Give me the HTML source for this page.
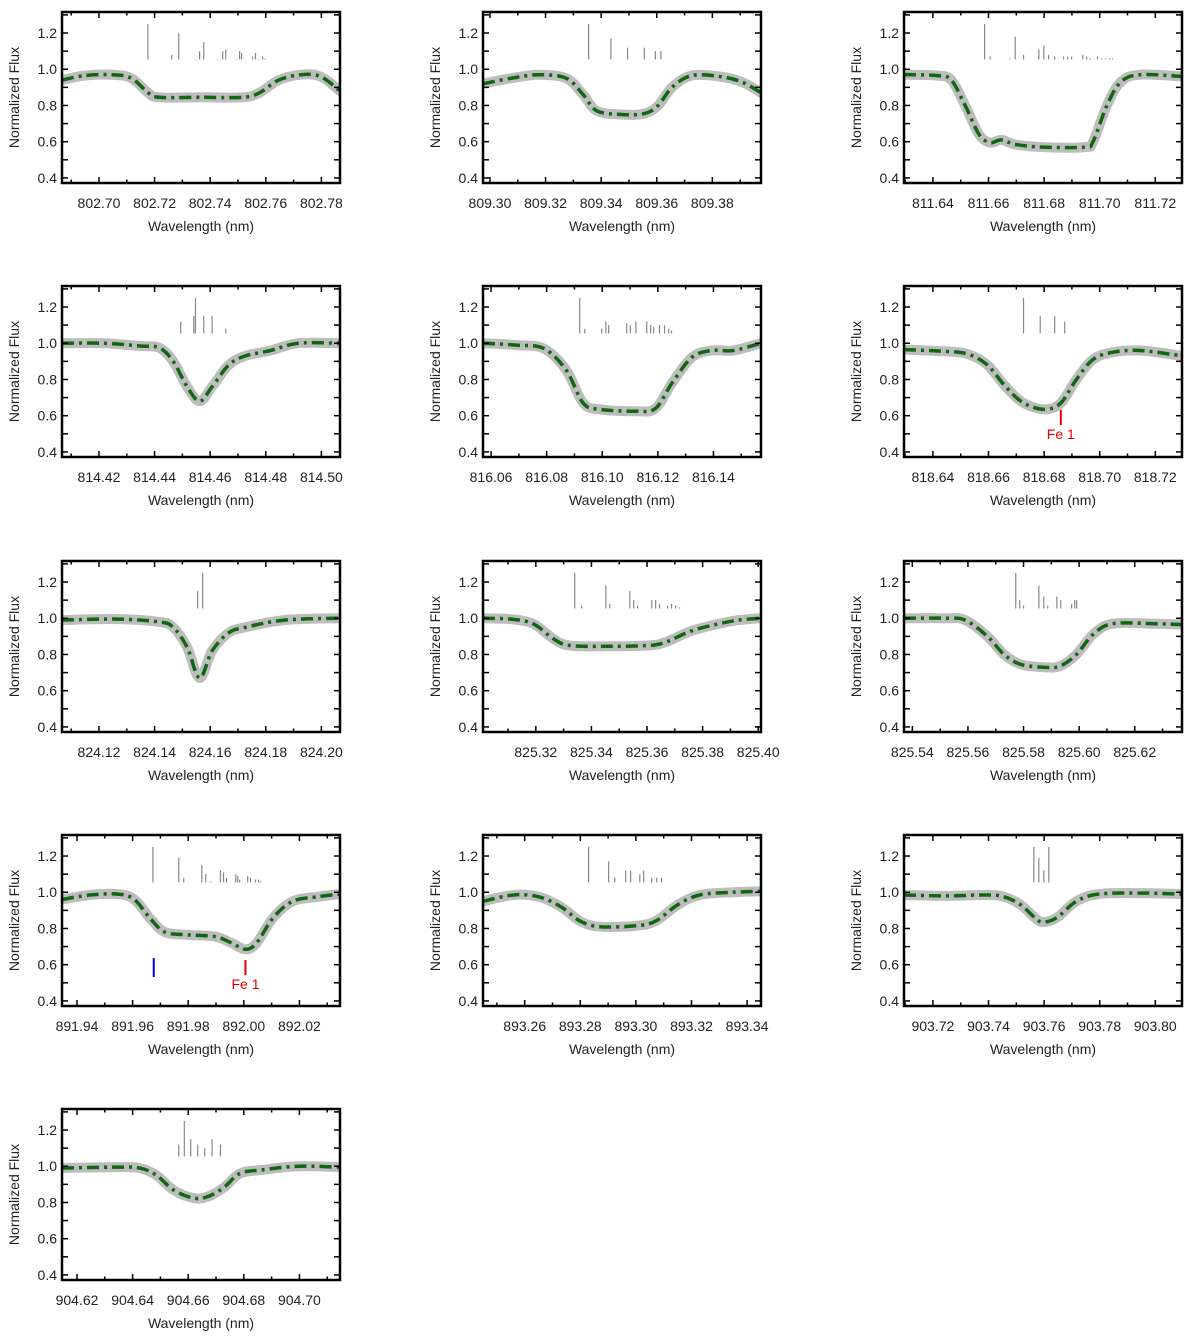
<!DOCTYPE html>
<html><head><meta charset="utf-8"><style>
body{margin:0;background:#fff}
svg text{font-family:"Liberation Sans",Arial,sans-serif;fill:#222}
</style></head><body>
<svg id="fig" width="1200" height="1339" viewBox="0 0 1200 1339" xmlns="http://www.w3.org/2000/svg"></svg>
<script>
// panel wavelength starts (nm), each panel spans 0.1 nm
const panelStarts = [802.6867, 809.2975, 811.6296, 814.4067, 816.0571, 818.6296, 824.1067, 825.301, 825.537, 891.9346, 893.245, 903.7096, 904.6146];
// flux curve sample offsets (nm from panel start) and normalized flux
const fluxDx = [
 [0,.008,.018,.025,.031,.035,.05,.065,.071,.078,.086,.093,.1],
 [0,.01,.02,.03,.036,.041,.05,.058,.063,.068,.075,.085,.093,.1],
 [0,.012,.017,.022,.027,.031,.035,.04,.05,.065,.068,.073,.078,.085,.1],
 [0,.015,.028,.035,.04,.045,.0495,.054,.06,.066,.075,.085,.1],
 [0,.012,.022,.03,.036,.042,.055,.062,.068,.075,.082,.09,.1],
 [0,.015,.023,.03,.036,.042,.048,.053,.057,.062,.068,.075,.085,.1],
 [0,.02,.035,.04,.045,.0495,.054,.06,.066,.08,.1],
 [0,.01,.018,.025,.031,.045,.06,.066,.075,.085,.092,.1],
 [0,.015,.022,.03,.036,.042,.05,.056,.062,.068,.075,.09,.1],
 [0,.01,.02,.026,.032,.037,.045,.055,.061,.066,.07,.076,.083,.092,.1],
 [0,.011,.02,.028,.035,.042,.055,.062,.07,.078,.09,.1],
 [0,.015,.03,.036,.042,.047,.05,.055,.062,.07,.085,.1],
 [0,.02,.028,.034,.04,.047,.052,.058,.064,.072,.085,.1]
];
const fluxVals = [
 [.94,.965,.97,.95,.87,.845,.845,.845,.87,.94,.97,.96,.88],
 [.92,.95,.97,.95,.86,.77,.75,.755,.8,.9,.965,.96,.93,.87],
 [.97,.965,.94,.8,.64,.595,.61,.585,.57,.57,.6,.8,.93,.97,.96],
 [1.0,1.0,.985,.975,.9,.76,.68,.76,.88,.93,.96,1.0,1.0],
 [1.0,.99,.97,.85,.67,.635,.625,.64,.78,.92,.96,.96,1.0],
 [.965,.955,.94,.88,.77,.68,.64,.64,.68,.8,.91,.95,.96,.93],
 [.99,.995,.98,.95,.84,.67,.82,.92,.95,.99,1.0],
 [1.0,.995,.97,.89,.85,.845,.85,.87,.93,.97,.99,1.0],
 [1.0,1.0,.99,.9,.8,.745,.73,.735,.8,.91,.97,.97,.965],
 [.96,.985,.99,.96,.85,.78,.765,.755,.72,.685,.72,.86,.95,.975,.99],
 [.95,.985,.975,.92,.84,.81,.815,.84,.93,.985,1.0,1.005],
 [.985,.98,.985,.975,.93,.86,.835,.86,.95,.99,.995,.99],
 [.99,.995,.99,.95,.87,.825,.83,.88,.96,.98,1.0,.995]
];
// line list sticks: offsets (nm) and top heights
const lineDx = [
 [.0309,.0395,.042,.0481,.0495,.051,.056,.0578,.0589,.0628,.0639,.0646,.0686,.0696,.0707,.0722,.0732],
 [.038,.046,.052,.058,.062,.064],
 [.029,.031,.038,.04,.043,.0485,.0503,.052,.0542,.0574,.0589,.0603,.0643,.0657,.0668,.0696,.0711,.0725,.074,.075],
 [.0427,.0474,.048,.051,.054,.0589],
 [.0348,.0366,.0427,.0442,.0452,.0517,.053,.055,.0589,.0603,.0614,.0635,.0653,.0668,.0678],
 [.043,.049,.0542,.0578],
 [.0488,.0506],
 [.033,.0355,.0442,.0456,.0528,.0542,.0556,.0607,.0621,.0635,.0664,.0678,.0693,.0707],
 [.0402,.0416,.043,.0485,.0503,.0517,.055,.0564,.0603,.0614,.0621],
 [.0327,.042,.0438,.0503,.0517,.0535,.057,.0581,.0592,.0625,.0632,.0639,.0668,.0678,.0696,.0707,.0714],
 [.038,.0452,.0474,.0513,.0531,.0564,.0578,.0607,.0625,.0642],
 [.0467,.0485,.0503,.0521],
 [.042,.044,.0463,.0488,.0513,.054,.057]
];
const lineTops = [
 [1.25,1.08,1.20,1.05,1.10,1.15,1.05,1.10,1.11,1.05,1.10,1.09,1.07,1.09,1.05,1.07,1.06],
 [1.25,1.17,1.12,1.12,1.10,1.10],
 [1.25,1.07,1.06,1.18,1.08,1.11,1.13,1.08,1.07,1.07,1.07,1.07,1.08,1.07,1.06,1.07,1.06,1.06,1.06,1.06],
 [1.12,1.15,1.25,1.15,1.15,1.08],
 [1.25,1.08,1.08,1.12,1.10,1.11,1.10,1.12,1.12,1.10,1.09,1.10,1.10,1.08,1.07],
 [1.25,1.15,1.15,1.12],
 [1.15,1.25],
 [1.25,1.07,1.18,1.08,1.15,1.10,1.07,1.10,1.10,1.08,1.07,1.08,1.07,1.06],
 [1.25,1.10,1.07,1.18,1.12,1.07,1.12,1.10,1.08,1.10,1.10],
 [1.25,1.19,1.08,1.15,1.10,1.06,1.12,1.11,1.08,1.10,1.09,1.07,1.09,1.08,1.07,1.07,1.06],
 [1.25,1.17,1.08,1.12,1.12,1.10,1.12,1.08,1.08,1.08],
 [1.25,1.19,1.12,1.25],
 [1.12,1.25,1.15,1.12,1.10,1.15,1.12]
];
const lineBase = 1.054;
// annotation markers: [panel, offset nm, fluxTop, fluxBottom, color, label]
const markers = [[5,.0564,.632,.549,"#e00000","Fe 1"],[9,.033,.637,.532,"#0000e0",""],[9,.066,.626,.543,"#e00000","Fe 1"]];
const yTicks = [0.4,0.6,0.8,1.0,1.2];

const NS="http://www.w3.org/2000/svg";
const svg=document.getElementById('fig');
const colX=[62,483,904], rowY=[12,286,561,835,1109], W=278, H=171;
const YMIN=0.372, YMAX=1.316, SPAN=0.1;
function mk(tag,attrs,parent){const e=document.createElementNS(NS,tag);for(const k in attrs)e.setAttribute(k,attrs[k]);(parent||svg).appendChild(e);return e;}
function smooth(pts){let d=`M${pts[0][0]},${pts[0][1]}`;for(let i=0;i<pts.length-1;i++){const p0=pts[i-1]||pts[i],p1=pts[i],p2=pts[i+1],p3=pts[i+2]||p2;
 const c1=[p1[0]+(p2[0]-p0[0])/6,p1[1]+(p2[1]-p0[1])/6],c2=[p2[0]-(p3[0]-p1[0])/6,p2[1]-(p3[1]-p1[1])/6];
 d+=`C${c1[0].toFixed(1)},${c1[1].toFixed(1)} ${c2[0].toFixed(1)},${c2[1].toFixed(1)} ${p2[0].toFixed(1)},${p2[1].toFixed(1)}`;}return d;}

panelStarts.forEach((start,p)=>{
 const ox=colX[p%3], oy=rowY[Math.floor(p/3)];
 const xs=dx=>ox+dx/SPAN*W;
 const ys=v=>oy+H-(v-YMIN)/(YMAX-YMIN)*H;
 const g=mk('g',{});
 
 
 const cp=mk('clipPath',{id:'c'+p},g);mk('rect',{x:ox,y:oy,width:W,height:H},cp);
 lineDx[p].forEach((d,i)=>{const l=mk('line',{x1:xs(d),x2:xs(d),y1:ys(lineBase),y2:ys(lineTops[p][i]),stroke:'#888','stroke-width':1.2},g);
  
  });
 const pts=fluxDx[p].map((d,i)=>[xs(d),ys(fluxVals[p][i])]);
 const path=smooth(pts);
 const obs=mk('path',{d:path,fill:'none',stroke:'#bdbdbd','stroke-width':10,'stroke-linecap':'round','clip-path':`url(#c${p})`},g);
 
 
 const mod=mk('path',{d:path,fill:'none',stroke:'#116611','stroke-width':3.5,'stroke-dasharray':'12 5 3 5','clip-path':`url(#c${p})`},g);
 
 
 const fr=mk('rect',{x:ox,y:oy,width:W,height:H,fill:'none',stroke:'#000','stroke-width':2.5},g);
 
 
 const first=Math.ceil(start*100-1e-6);
 for(let k=first;k/100<=start+SPAN+1e-9;k++){const x=xs(k/100-start);const major=k%2===0;const L=major?6:3.5;
  mk('line',{x1:x,x2:x,y1:oy+H,y2:oy+H-L,stroke:'#000','stroke-width':1.5},g);
  mk('line',{x1:x,x2:x,y1:oy,y2:oy+L,stroke:'#000','stroke-width':1.5},g);
  if(major){const t=mk('text',{x:x,y:oy+H+25,'font-size':14,'text-anchor':'middle'},g);t.textContent=(k/100).toFixed(2);
   
   }}
 for(let v=0.4;v<=1.3;v+=0.1){const y=ys(v);const L=6;
  mk('line',{x1:ox,x2:ox+L,y1:y,y2:y,stroke:'#000','stroke-width':1.5},g);
  mk('line',{x1:ox+W,x2:ox+W-L,y1:y,y2:y,stroke:'#000','stroke-width':1.5},g);}
 yTicks.forEach(v=>{const t=mk('text',{x:ox-5,y:ys(v)+5,'font-size':14,'text-anchor':'end'},g);t.textContent=v.toFixed(1);
  
  });
 const xt=mk('text',{x:ox+W/2,y:oy+H+48,'font-size':14,'text-anchor':'middle'},g);xt.textContent='Wavelength (nm)';
 
 
 const yt=mk('text',{x:0,y:0,'font-size':14,'text-anchor':'middle',transform:`translate(${ox-43},${oy+H/2}) rotate(-90)`},g);yt.textContent='Normalized Flux';
 
 
 markers.filter(m=>m[0]===p).forEach(m=>{const x=xs(m[1]);
  const ml=mk('line',{x1:x,x2:x,y1:ys(m[2]),y2:ys(m[3]),stroke:m[4],'stroke-width':2},g);
  
  
  if(m[5]){const t=mk('text',{x:x,y:ys(m[3])+14,'font-size':14,'text-anchor':'middle',style:`fill:${m[4]}`},g);t.textContent=m[5];
   
   }});
});
</script>
</body></html>
